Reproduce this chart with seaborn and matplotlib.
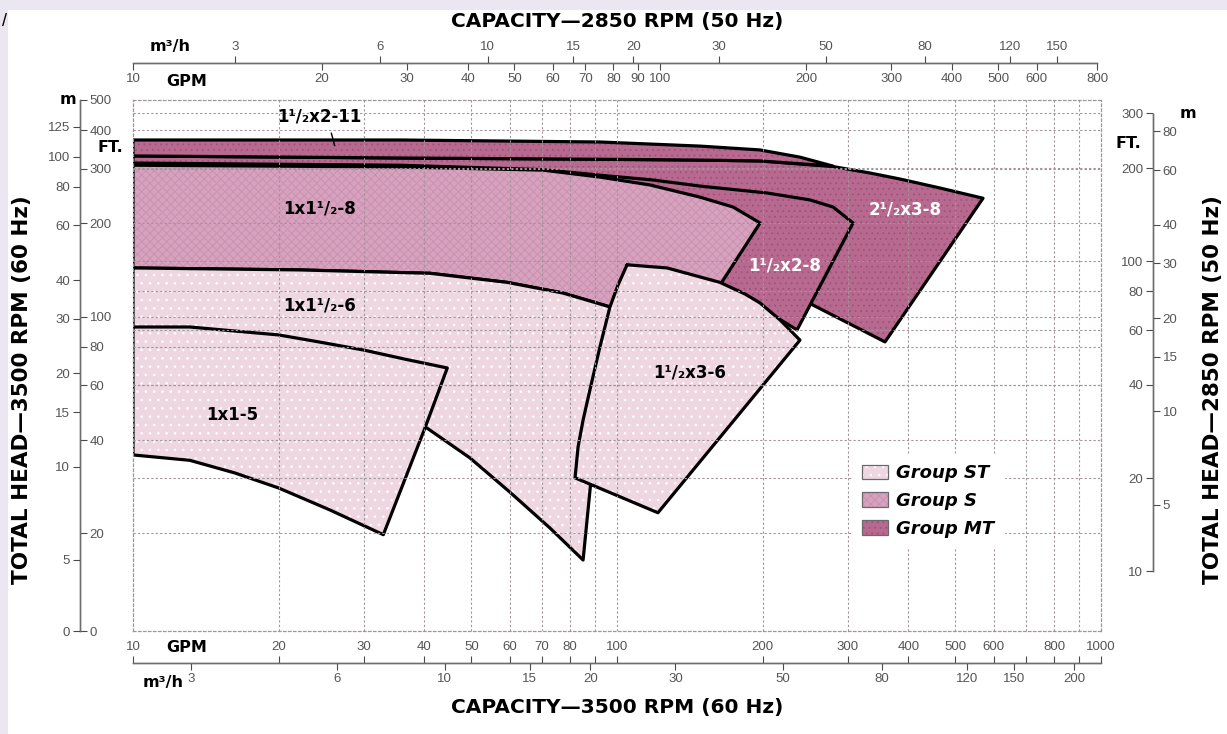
import matplotlib
matplotlib.use("Agg")
import matplotlib.pyplot as plt
import matplotlib.ticker as mticker
from matplotlib.patches import Patch, Rectangle
import seaborn as sns

# unit conversions and pump affinity laws (Q ~ n, H ~ n^2)
FT_PER_M = 3.2808
GPM_PER_M3H = 4.4029
FLOW_RATIO = 2850 / 3500
HEAD_RATIO = FLOW_RATIO ** 2

# ---- coverage areas at 3500 RPM: capacity in US GPM, total head in ft ----
# each outline runs along the top curve left->right, then back along the bottom
mt_2half_x3_8_q = [10, 35.6, 92.2, 148.4, 197.5, 279.5, 333.2, 384.3, 465, 570.5,
                   357.9, 254, 197.5, 92.2, 10]
mt_2half_x3_8_h = [330, 325, 322, 320, 318, 305, 290.7, 278, 260, 241,
                   82.9, 109, 152, 221, 247]

mt_1half_x2_8_q = [10, 35.6, 70.3, 92.2, 118.7, 148.4, 204.2, 250.5, 279.5, 307.4,
                   235.5, 163.2, 148.4, 92.2, 10]
mt_1half_x2_8_h = [313, 308, 298, 286, 276, 263.8, 250.6, 238, 225.8, 200.6,
                   90.6, 129, 170, 230, 260]

mt_1half_x2_11_q = [10, 35.6, 92.2, 148.4, 197.5, 238.8, 279.5, 197.5, 148.4, 92.2, 35.6, 10]
mt_1half_x2_11_h = [371.5, 371.5, 366, 355, 345, 327, 306, 318, 320, 322, 325, 330]

s_1x1half_8_q = [10, 35.6, 70.3, 92.2, 117, 148.4, 173.7, 197.5, 165.6, 148.4,
                 96.7, 77.3, 59.3, 41.1, 22.1, 10]
s_1x1half_8_h = [308, 304, 297, 282, 266, 243, 225.8, 200.6, 131, 99,
                 107.5, 119.2, 129, 138, 141.5, 143.6]

st_1x1half_6_q = [10, 22.1, 41.1, 59.3, 77.3, 96.7, 90.9, 85.1, 72.7, 60, 49.7, 40.5, 25.5, 10]
st_1x1half_6_h = [143.6, 141.5, 138, 129, 119.2, 107.5, 46.4, 16.4, 20.8, 27.2, 35, 43.7, 58, 84]

st_1x1_5_q = [10, 13.1, 20, 24.3, 30, 36.5, 44.6, 40.1, 32.9, 25.5, 20, 16.25, 13.1, 10]
st_1x1_5_h = [92.6, 92.6, 87.3, 82.8, 78, 72.9, 68.3, 43.7, 19.8, 23.8, 28, 31.3, 34.4, 35.8]

st_1half_x3_6_q = [104.9, 126.9, 163.2, 183.9, 197.5, 217.2, 238.8, 121.5, 81.9,
                   83.1, 85.1, 87.9, 92.2, 96.7, 100.5]
st_1half_x3_6_h = [147, 143.6, 129, 118.3, 110.7, 97.6, 84, 23.3, 30.2,
                   38, 46.4, 58, 79.9, 107.5, 126.6]

# model names, group and where the name is printed (GPM, ft)
model_names = ["2¹/₂x3-8", "1¹/₂x2-8", "1¹/₂x2-11", "1x1¹/₂-8", "1x1¹/₂-6", "1x1-5", "1¹/₂x3-6"]
model_groups = ["MT", "MT", "MT", "S", "ST", "ST", "ST"]
name_q = [393.7, 222, 24.3, 24.3, 24.3, 16.0, 141.6]
name_h = [221, 146.7, 441, 224, 109, 48, 66]

# axis ticks
left_ft_ticks = [500, 400, 300, 200, 100, 80, 60, 40, 20]
left_m_ticks = [125, 100, 80, 60, 40, 30, 20, 15, 10, 5]
right_ft_ticks = [300, 200, 100, 80, 60, 40, 20, 10]
right_m_ticks = [80, 60, 40, 30, 20, 15, 10, 5]
bottom_gpm_ticks = [10, 20, 30, 40, 50, 60, 70, 80, 90, 100, 200, 300, 400, 500, 600, 700, 800, 900, 1000]
bottom_gpm_labels = ["10", "20", "30", "40", "50", "60", "70", "80", "", "100", "200", "300",
                     "400", "500", "600", "", "800", "", "1000"]
bottom_m3h_ticks = [3, 6, 10, 15, 20, 30, 50, 80, 120, 150, 200]
top_gpm_ticks = [20, 30, 40, 50, 60, 70, 80, 90, 100, 200, 300, 400, 500, 600, 800]
top_m3h_ticks = [3, 6, 10, 15, 20, 30, 50, 80, 120, 150]
grid_q = [20, 30, 40, 50, 60, 70, 80, 90, 100, 200, 300, 400, 500, 600, 700, 800, 900]

Q_MIN, Q_MAX = 10, 1000
H_MIN, H_MAX = 9.68, 500

group_style = {
    "ST": dict(face="#eed7e1", hatch="..", hatch_color="#ffffff"),
    "S": dict(face="#d7a2be", hatch="xxxx", hatch_color="#c990b0"),
    "MT": dict(face="#b8698f", hatch="...", hatch_color="#9d5479"),
}

sns.set_theme(style="white")
plt.rcParams.update({
    "font.family": ["Liberation Sans", "DejaVu Sans"],
    "text.color": "black",
    "hatch.linewidth": 0.6,
})
BOLD_FONT = ["DejaVu Sans"]

W, H = 1227, 734
fig = plt.figure(figsize=(W / 100, H / 100), dpi=100)
fig.patch.set_facecolor("white")
band = "#ebe7f2"
fig.patches.append(Rectangle((0, 1 - 10 / H), 1, 10 / H, transform=fig.transFigure,
                             facecolor=band, edgecolor="none", zorder=0))
fig.patches.append(Rectangle((0, 0), 8 / W, 1, transform=fig.transFigure,
                             facecolor=band, edgecolor="none", zorder=0))
fig.text(2 / W, 1 - 22 / H, "/", fontsize=13, va="center", ha="left")

ax = fig.add_axes([133 / W, 1 - 631 / H, 968 / W, 531 / H])
ax.set_xscale("log")
ax.set_yscale("log")
ax.set_xlim(Q_MIN, Q_MAX)
ax.set_ylim(H_MIN, H_MAX)

outlines = [
    (mt_2half_x3_8_q, mt_2half_x3_8_h),
    (mt_1half_x2_8_q, mt_1half_x2_8_h),
    (mt_1half_x2_11_q, mt_1half_x2_11_h),
    (s_1x1half_8_q, s_1x1half_8_h),
    (st_1x1half_6_q, st_1x1half_6_h),
    (st_1x1_5_q, st_1x1_5_h),
    (st_1half_x3_6_q, st_1half_x3_6_h),
]
for i, ((q, h), grp) in enumerate(zip(outlines, model_groups)):
    st = group_style[grp]
    z = 1 + i * 0.1
    ax.fill(q, h, facecolor=st["face"], edgecolor=st["hatch_color"], hatch=st["hatch"],
            linewidth=0, zorder=z)
    sns.lineplot(x=q + [q[0]], y=h + [h[0]], sort=False, estimator=None, color="black",
                 linewidth=2.3, ax=ax, zorder=z + 0.05)

ax.set_xlim(Q_MIN, Q_MAX)
ax.set_ylim(H_MIN, H_MAX)
ax.set_xlabel("")
ax.set_ylabel("")

# grid: capacity lines, plus the head lines of both speed scales
grid_h = left_ft_ticks[1:] + [h / HEAD_RATIO for h in right_ft_ticks[:-1]]
ax.set_xticks(grid_q)
ax.set_yticks(grid_h)
ax.xaxis.set_minor_locator(mticker.NullLocator())
ax.yaxis.set_minor_locator(mticker.NullLocator())
ax.tick_params(which="both", length=0, labelbottom=False, labelleft=False)
grid_c = "#a0949a"
ax.grid(True, which="major", color=grid_c, linestyle=(0, (2, 2)), linewidth=0.8)
ax.set_axisbelow(False)
for s in ax.spines.values():
    s.set_visible(True)
    s.set_color(grid_c)
    s.set_linestyle((0, (2, 2)))
    s.set_linewidth(0.9)

# model names
for name, grp, q, h in zip(model_names, model_groups, name_q, name_h):
    col = "white" if name in ("2¹/₂x3-8", "1¹/₂x2-8") else "black"
    ax.text(q, h, name, ha="center", va="center", fontsize=12, fontweight="bold",
            family=BOLD_FONT, color=col, zorder=5)
ax.annotate("", xy=(26.2, 349), xytext=(25.6, 399),
            arrowprops=dict(arrowstyle="-", color="black", lw=1), zorder=5)

# ---- scale bars ----
tick_c = "#4a4a4a"
lab_c = "#555555"
line_style = dict(color="#6d6d6d", linestyle=(0, (1, 1)), linewidth=1.0)


def style_sec(sec, axis):
    getattr(sec, axis + "axis").set_minor_locator(mticker.NullLocator())
    sec.tick_params(axis=axis, which="major", length=5, width=0.8, color=tick_c,
                    labelsize=9.5, labelcolor=lab_c, pad=2)
    for sp in sec.spines.values():
        sp.set_color(line_style["color"])
        sp.set_linestyle(line_style["linestyle"])
        sp.set_linewidth(line_style["linewidth"])


left_pos = (80 - 133) / 968
left_ft = ax.secondary_yaxis(left_pos)
style_sec(left_ft, "y")
left_ft.set_yticks(left_ft_ticks + [H_MIN], labels=[str(v) for v in left_ft_ticks] + ["0"])
left_ft.set_alignment("right")

left_m = ax.secondary_yaxis(left_pos, functions=(lambda h: h / FT_PER_M, lambda m: m * FT_PER_M))
style_sec(left_m, "y")
left_m.set_yticks(left_m_ticks + [H_MIN / FT_PER_M], labels=[str(v) for v in left_m_ticks] + ["0"])

right_pos = (1153 - 133) / 968
right_ft = ax.secondary_yaxis(right_pos, functions=(lambda h: h * HEAD_RATIO, lambda h: h / HEAD_RATIO))
style_sec(right_ft, "y")
right_ft.set_yticks(right_ft_ticks, labels=[str(v) for v in right_ft_ticks])
right_ft.set_alignment("left")
right_ft.spines["left"].set_bounds(min(right_ft_ticks), max(right_ft_ticks))

right_m = ax.secondary_yaxis(right_pos, functions=(lambda h: h * HEAD_RATIO / FT_PER_M,
                                                   lambda m: m * FT_PER_M / HEAD_RATIO))
style_sec(right_m, "y")
right_m.set_yticks(right_m_ticks, labels=[str(v) for v in right_m_ticks])
right_m.spines["right"].set_bounds(min(right_ft_ticks) / FT_PER_M, max(right_ft_ticks) / FT_PER_M)

bottom_pos = -(663 - 631) / 531
bottom_gpm = ax.secondary_xaxis(bottom_pos)
style_sec(bottom_gpm, "x")
bottom_gpm.set_xticks(bottom_gpm_ticks, labels=bottom_gpm_labels)
bottom_gpm.set_alignment("top")

bottom_m3h = ax.secondary_xaxis(bottom_pos, functions=(lambda q: q / GPM_PER_M3H, lambda m: m * GPM_PER_M3H))
style_sec(bottom_m3h, "x")
bottom_m3h.set_xticks(bottom_m3h_ticks, labels=[str(v) for v in bottom_m3h_ticks])

top_pos = 1 + (100 - 63) / 531
top_gpm = ax.secondary_xaxis(top_pos, functions=(lambda q: q * FLOW_RATIO, lambda q: q / FLOW_RATIO))
style_sec(top_gpm, "x")
top_gpm.set_xticks([Q_MIN * FLOW_RATIO] + top_gpm_ticks, labels=["10"] + [str(v) for v in top_gpm_ticks])
top_gpm.set_alignment("bottom")
top_gpm.spines["bottom"].set_bounds(Q_MIN * FLOW_RATIO, 800)

top_m3h = ax.secondary_xaxis(top_pos, functions=(lambda q: q * FLOW_RATIO / GPM_PER_M3H,
                                                 lambda m: m * GPM_PER_M3H / FLOW_RATIO))
style_sec(top_m3h, "x")
top_m3h.set_xticks(top_m3h_ticks, labels=[str(v) for v in top_m3h_ticks])
top_m3h.spines["top"].set_bounds(Q_MIN * FLOW_RATIO / GPM_PER_M3H, 800 / GPM_PER_M3H)


# unit captions and titles
def ftext(x, y, s, **kw):
    fig.text(x / W, 1 - y / H, s, color="black", **kw)


unit = dict(fontsize=11.5, fontweight="bold", va="center", family=BOLD_FONT)
ftext(68, 100, "m", ha="center", **unit)
ftext(110, 148, "FT.", ha="center", **unit)
ftext(1188, 113, "m", ha="center", **unit)
ftext(1128, 143, "FT.", ha="center", **unit)
ftext(170, 46, "m³/h", ha="center", **unit)
ftext(187, 81, "GPM", ha="center", **unit)
ftext(187, 648, "GPM", ha="center", **unit)
ftext(163, 683, "m³/h", ha="center", **unit)

title = dict(fontweight="bold", va="center", ha="center", family=BOLD_FONT)
ftext(617, 22, "CAPACITY—2850 RPM (50 Hz)", fontsize=14.5, **title)
ftext(617, 708, "CAPACITY—3500 RPM (60 Hz)", fontsize=14.5, **title)
ftext(22, 390, "TOTAL HEAD—3500 RPM (60 Hz)", rotation=90, fontsize=15.5, **title)
ftext(1213, 390, "TOTAL HEAD—2850 RPM (50 Hz)", rotation=90, fontsize=15.5, **title)

# legend
handles = []
for grp in ["ST", "S", "MT"]:
    st = group_style[grp]
    handles.append((Patch(facecolor=st["face"], edgecolor=st["hatch_color"], hatch=st["hatch"], linewidth=0),
                    Patch(facecolor="none", edgecolor="#6a6a6a", linewidth=0.9)))
leg = ax.legend(handles, ["Group ST", "Group S", "Group MT"], loc="upper left",
                bbox_to_anchor=((843 - 133) / 968, (631 - 445) / 531),
                prop=dict(size=13, weight="bold", style="italic", family=BOLD_FONT),
                frameon=True, fancybox=False, framealpha=1, edgecolor="white",
                handlelength=1.45, handleheight=0.85, handletextpad=0.45,
                labelspacing=0.55, borderpad=0.55)
for t in leg.get_texts():
    t.set_color("black")
leg.set_zorder(6)

fig.savefig("out.png", dpi=100, facecolor="white")
